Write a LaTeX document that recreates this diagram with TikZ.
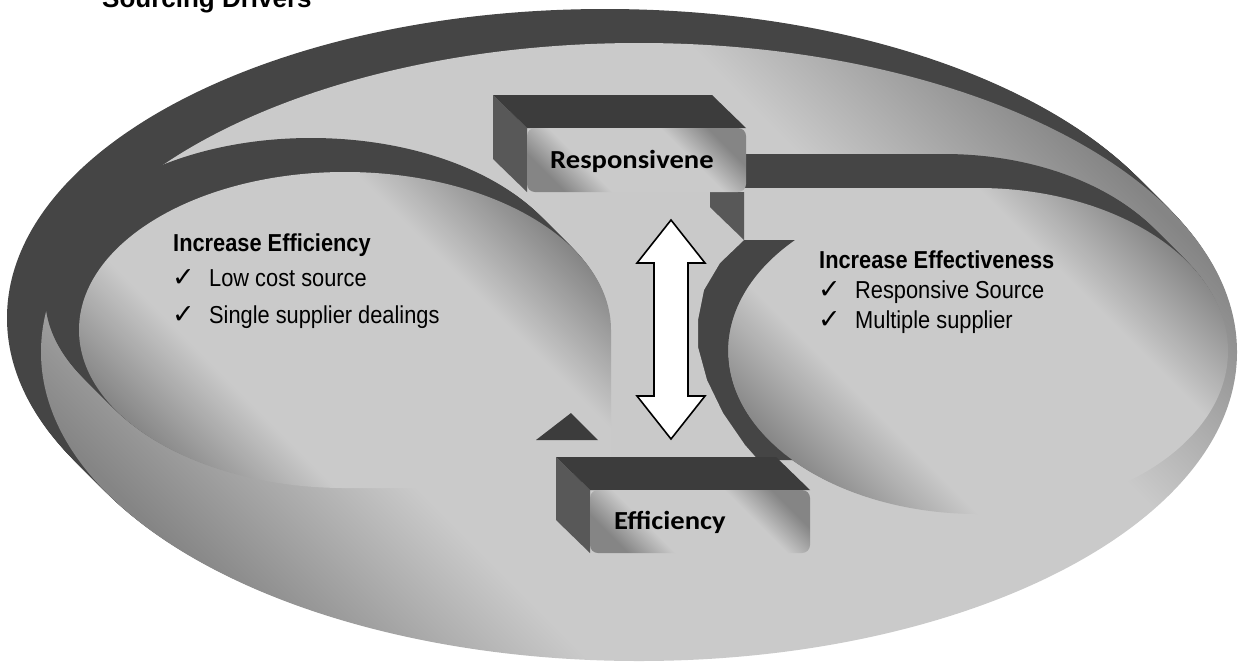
\documentclass[tikz,border=0pt]{standalone}
\usepackage{fontspec}
\setmainfont{Liberation Sans}
\newfontfamily\headfont{Liberation Sans}
\newfontfamily\listfont[FakeStretch=0.89]{Liberation Sans}
\newfontfamily\tickfont{DejaVu Sans}
\newfontfamily\boxfont[FakeStretch=1.1]{Carlito}

\definecolor{bandgray}{HTML}{454545}
\definecolor{topgray}{HTML}{3C3C3C}
\definecolor{sidegray}{HTML}{585858}
\definecolor{flatgray}{HTML}{C9C9C9}
\definecolor{facedark}{HTML}{858585}
\definecolor{facelight}{HTML}{CACACA}

% light band across the middle, darker towards two opposite corners
\pgfdeclareverticalshading{facegrad}{100bp}{%
  color(0bp)=(facedark); color(24bp)=(facedark); color(36bp)=(facelight);
  color(64bp)=(facelight); color(76bp)=(facedark); color(100bp)=(facedark)}

\tikzset{
  faceshade/.style={shading=facegrad, shading angle=-45},
  band/.style={fill=bandgray},
  topwall/.style={fill=topgray},
  sidewall/.style={fill=sidegray},
  flat/.style={fill=flatgray},
  heading/.style={anchor=base west, inner sep=0pt, font=\listfont\bfseries\fontsize{24.5}{28}\selectfont},
  item/.style={anchor=base west, inner sep=0pt, font=\listfont\fontsize{24.5}{28}\selectfont},
  tick/.style={anchor=base west, inner sep=0pt, font=\tickfont\fontsize{27}{30}\selectfont},
  boxlabel/.style={anchor=base west, inner sep=0pt, font=\boxfont\bfseries\fontsize{26}{30}\selectfont},
  title/.style={anchor=base west, inner sep=0pt, font=\headfont\bfseries\fontsize{26}{30}\selectfont},
  dblarrow/.style={fill=white, draw=black, line width=1.6pt, line join=miter},
}

\begin{document}
\begin{tikzpicture}[x=1pt,y=-1pt]
\useasboundingbox (0,0) rectangle (1238,662);
\clip (0,0) rectangle (1238,662);

% outer disc: extruded side, then front face
\foreach \k in {1,...,34}
  \fill[band] (639-\k,352-\k) ellipse[x radius=598, y radius=309];
\shade[faceshade] (639,352) ellipse[x radius=598, y radius=309];

% right drop (square corner top left): side, face, recess in the corner
\foreach \k in {1,...,34}
  \fill[band] (978-\k,188-\k) arc[start angle=-90, end angle=180, x radius=250, y radius=163] -- (728-\k,188-\k) -- cycle;
\shade[faceshade] (978,188) arc[start angle=-90, end angle=180, x radius=250, y radius=163] -- (728,188) -- cycle;
\fill[band] (690,240) -- (794.9,240) arc[start angle=222.9, end angle=137.9, x radius=250, y radius=163] -- (690,460) -- cycle;

% light channel between the two drops
\fill[flat] (560,192) -- (710,192) -- (710,207) -- (744,240) -- (720,263) -- (704,290)
  -- (698,320) -- (698,347) -- (707,380) -- (723,413) -- (745,445) -- (760,462) -- (560,462) -- cycle;
\fill[sidewall] (710,192) -- (744,192) -- (744,240) -- (710,207) -- cycle;

% left drop (square corner bottom right): side, face
\foreach \k in {1,...,34}
  \fill[band] (611-\k,330-\k) arc[start angle=0, end angle=-270, x radius=266, y radius=158] -- (611-\k,488-\k) -- cycle;
\shade[faceshade] (611,330) arc[start angle=0, end angle=-270, x radius=266, y radius=158] -- (611,488) -- cycle;
\fill[topwall] (536,440) -- (571,413) -- (598,440) -- cycle;

% upper block
\fill[sidewall] (493,95) -- (527,128) -- (527,192) -- (493,159) -- cycle;
\fill[topwall] (493,95) -- (712,95) -- (746,128) -- (527,128) -- cycle;
\shade[faceshade, rounded corners=8pt] (527,128) rectangle (746,192);

% lower block
\fill[sidewall] (556,457) -- (590,490) -- (590,553) -- (556,520) -- cycle;
\fill[topwall] (556,457) -- (776,457) -- (810,490) -- (590,490) -- cycle;
\shade[faceshade, rounded corners=8pt] (590,490) rectangle (810,553);

% two-headed arrow between the blocks
\draw[dblarrow] (671,220) -- (705,263) -- (688,263) -- (688,396) -- (705,396) -- (671,439)
  -- (637,396) -- (654,396) -- (654,263) -- (637,263) -- cycle;

% labels
\node[title] (title) at (102,7.5) {Sourcing Drivers};
\node[boxlabel] (resp) at (550,168) {Responsivene};
\node[boxlabel] (effi) at (614,529) {Efficiency};

\node[heading] (lhead) at (173,251) {Increase Efficiency};
\node[tick] (ltick1) at (172,286) {✓};
\node[item] (litem1) at (209,286) {Low cost source};
\node[tick] (ltick2) at (172,323) {✓};
\node[item] (litem2) at (209,323) {Single supplier dealings};

\node[heading] (rhead) at (819,268) {Increase Effectiveness};
\node[tick] (rtick1) at (818,298) {✓};
\node[item] (ritem1) at (855,298) {Responsive Source};
\node[tick] (rtick2) at (818,328) {✓};
\node[item] (ritem2) at (855,328) {Multiple supplier};
\end{tikzpicture}
\end{document}
